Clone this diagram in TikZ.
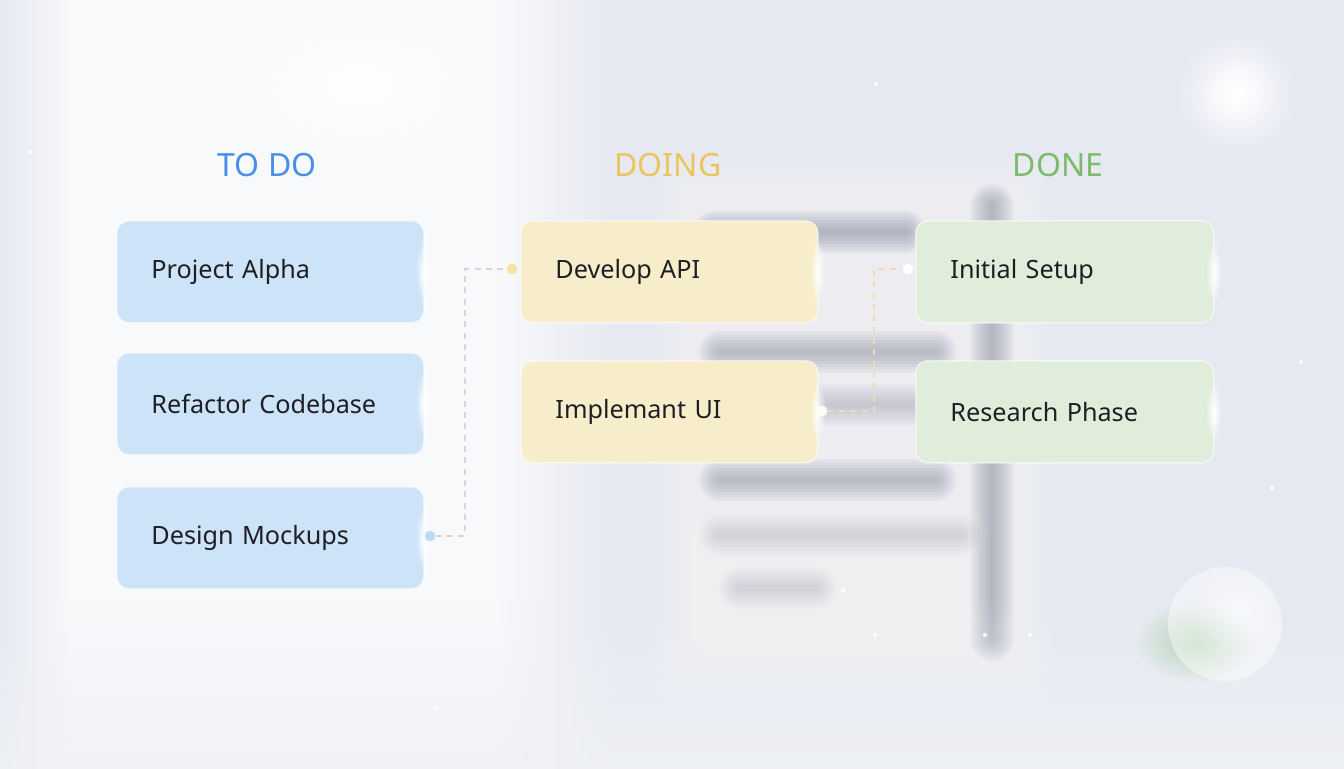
\documentclass[tikz,border=0pt]{standalone}
\usepackage{fontspec}
\setmainfont{Noto Sans}
\usetikzlibrary{fadings,calc}
\definecolor{bgbase}{HTML}{E6E9F1}
\definecolor{bgbottom}{HTML}{EFF1F5}
\definecolor{bgpanel}{HTML}{F8F9FB}
\definecolor{winbar}{HTML}{7D8296}
\definecolor{todofill}{HTML}{CDE3F8}
\definecolor{doingfill}{HTML}{F7EDCB}
\definecolor{donefill}{HTML}{E0EDDA}
\definecolor{todohead}{HTML}{4A90E2}
\definecolor{doinghead}{HTML}{EDC45E}
\definecolor{donehead}{HTML}{7DBB6A}
\definecolor{cardtext}{HTML}{1E1F22}
\definecolor{dashgrey}{HTML}{D4D6DC}
\definecolor{dashyellow}{HTML}{EEDDAE}
\definecolor{dotblue}{HTML}{BCDAF4}
\definecolor{dotyellow}{HTML}{F6E3A4}
\tikzfading[name=glowfade, inner color=transparent!0, outer color=transparent!100]
\tikzfading[name=fadeoutright, left color=transparent!0, right color=transparent!100]
\tikzfading[name=fadeoutleft, left color=transparent!100, right color=transparent!0]
\tikzfading[name=fadeoutup, top color=transparent!100, bottom color=transparent!0]
\newcommand\softrect[6]{%
  \foreach \k in {0,...,9}{%
    \fill[#5, opacity=#6, rounded corners=12] (#1-\k*5,#2-\k*5) rectangle (#3+\k*5,#4+\k*5);}}
\newcommand\softbar[6]{%
  \foreach \w in {6,12,18,24,30,36,42}{%
    \draw[#5, opacity=#6, line width=\w*0.75pt, line cap=round] (#1,#2) -- (#3,#4);}}
\tikzset{
  card/.style={rounded corners=9pt, minimum height=76.5pt, align=left,
    inner xsep=26pt, font=\fontsize{18.9pt}{22pt}\selectfont,
    text=cardtext, anchor=north west, draw=white, draw opacity=0.55, line width=1.2pt},
  todocard/.style={card, fill=todofill, text width=178.25pt},
  doingcard/.style={card, fill=doingfill, text width=170.75pt},
  donecard/.style={card, fill=donefill, text width=171.5pt},
  head/.style={font=\fontsize{24pt}{27pt}\selectfont},
  link/.style={line width=1.1pt, dash pattern=on 4.5pt off 4pt},
  dot/.style={circle, inner sep=0pt, minimum size=8pt},
  glow/.style={white, path fading=glowfade},
  spark/.style={white, opacity=0.8}
}
\begin{document}
\begin{tikzpicture}[x=0.75pt,y=-0.75pt]
\useasboundingbox (0,0) rectangle (1344,768);
\begin{scope}
\clip (0,0) rectangle (1344,768);
% background
\fill[bgbase] (-10,-10) rectangle (1354,778);
% left white panel with soft edges
\fill[bgpanel, path fading=fadeoutleft] (0,-40) rectangle (70,808);
\fill[bgpanel] (70,-40) rectangle (500,808);
\fill[bgpanel, path fading=fadeoutright] (500,-40) rectangle (615,808);
\fill[glow, opacity=0.9] (360,85) ellipse (130 and 80);
% blurred window
\softrect{700}{205}{1005}{655}{white}{0.05}
\softrect{725}{555}{955}{620}{white}{0.06}
\softbar{715}{232}{905}{232}{winbar}{0.09}
\softbar{992}{205}{992}{640}{winbar}{0.085}
\softbar{720}{352}{935}{352}{winbar}{0.08}
\softbar{720}{405}{955}{405}{winbar}{0.05}
\softbar{720}{480}{935}{480}{winbar}{0.08}
\softbar{720}{535}{960}{535}{winbar}{0.035}
\softbar{740}{588}{815}{588}{winbar}{0.035}
% lighter bottom band
\fill[bgbottom, path fading=fadeoutup] (-40,600) rectangle (1384,800);
% decorative circles
\fill[glow] (1237,93) circle (62);
\fill[glow, opacity=0.6] (1237,93) circle (40);
\fill[green!45!black!35!white, path fading=glowfade, opacity=0.8] (1195,642) ellipse (60 and 40);
\fill[white, opacity=0.45] (1225,624) circle (57);
\fill[glow, opacity=0.5] (1240,610) circle (45);
\end{scope}
% sparkles
\foreach \p in {(30,152),(435,707),(740,407),(843,590),(875,635),(985,635),(1030,635),(1301,362),(1272,488),(876,84)}
  \fill[spark] \p circle (2.2);
% headers
\node[head, text=todohead]  (hTodo)  at (267,165) {TO DO};
\node[head, text=doinghead] (hDoing) at (668,165) {DOING};
\node[head, text=donehead]  (hDone)  at (1058,165) {DONE};
% cards
\node[todocard]  (pa) at (116,220) {Project Alpha};
\node[todocard]  (rc) at (116,352) {Refactor Codebase};
\node[todocard]  (dm) at (116,486) {Design Mockups};
\node[doingcard] (da) at (520,220) {Develop API};
\node[doingcard] (iu) at (520,360) {Implemant UI};
\node[donecard]  (is) at (915,220) {Initial Setup};
\node[donecard]  (rp) at (915,360) {Research Phase};
% card glows
\foreach \c in {pa,rc,dm,da,iu,is,rp}{
  \fill[glow] ($(\c.east)+(-1,0)$) ellipse (8 and 32);
}
% connectors
\node[dot, fill=dotblue]   (d1) at (430,536) {};
\node[dot, fill=dotyellow] (d2) at (512,269) {};
\node[dot, fill=white!85!doingfill] (d3) at (822,411) {};
\node[dot, fill=white]     (d4) at (908,269) {};
\draw[link, dashgrey] (d1) -- ++(35,0) |- (d2);
\draw[link, dashyellow] (d3) -- ++(52,0) |- (d4);
\end{tikzpicture}
\end{document}
